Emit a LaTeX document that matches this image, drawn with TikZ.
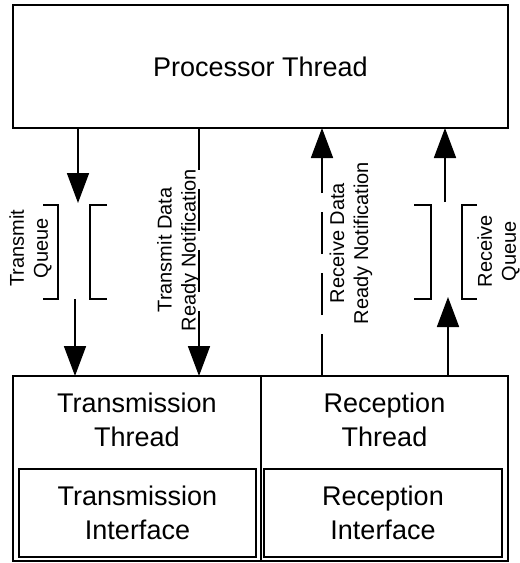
\documentclass[tikz,border=0pt]{standalone}
\usepackage{fontspec}
\setmainfont{Liberation Sans}
\usetikzlibrary{arrows.meta}
\begin{document}
\begin{tikzpicture}[x=1pt,y=-1pt,
  line width=1.8pt,
  box/.style={draw, rectangle, outer sep=0pt, inner sep=0pt, anchor=north west},
  bigtext/.style={inner sep=0pt, align=center, font=\fontsize{27}{34}\selectfont},
  sidetext/.style={inner sep=0pt, align=center, rotate=90, font=\fontsize{20}{24}\selectfont},
  flow/.style={-{Triangle[length=30pt,width=22pt]}},
  notify/.style={flow, dash pattern=on 42pt off 19pt},
  bracket/.style={line cap=butt}]
  \useasboundingbox (0,0) rectangle (520,563);

  % thread boxes
  \node[box, minimum width=495pt, minimum height=123pt] (proc) at (13,5) {};
  \node[bigtext] (proctext) at (proc.center) {Processor Thread};
  \node[box, minimum width=248pt, minimum height=185pt] (txt) at (13,376) {};
  \node[box, minimum width=247pt, minimum height=185pt] (rxt) at (261,376) {};
  \node[box, minimum width=237pt, minimum height=88pt] (txi) at (19,469) {};
  \node[box, minimum width=238pt, minimum height=88pt] (rxi) at (264,469) {};

  \node[bigtext] (txttext) at (137,420) {Transmission\\Thread};
  \node[bigtext] (rxttext) at (384.5,420) {Reception\\Thread};
  \node[bigtext] (txitext) at (txi.center) {Transmission\\Interface};
  \node[bigtext] (rxitext) at (rxi.center) {Reception\\Interface};

  % queue openings
  \coordinate (tq1) at (78,203);
  \coordinate (tq2) at (75,299);
  \coordinate (rq1) at (448,297);
  \coordinate (rq2) at (445,202);
  \coordinate (tn) at (199,0);
  \coordinate (rn) at (322,0);

  % transmit queue
  \draw[flow] (proc.south -| tq1) -- (tq1);
  \draw[flow] (tq2) -- (tq2 |- txt.north);
  \draw[bracket] (43,205) -- (58,205) -- (58,299) -- (43,299);
  \draw[bracket] (107,205) -- (90,205) -- (90,299) -- (107,299);
  \node[sidetext] (tqlabel) at (30.5,248) {Transmit\\Queue};

  % transmit data ready notification
  \draw[notify] (proc.south -| tn) -- (txt.north -| tn);
  \node[sidetext] (tnlabel) at (178.5,250) {Transmit Data\\Ready Notification};

  % receive data ready notification
  \draw[notify] (rxt.north -| rn) -- (proc.south -| rn);
  \node[sidetext] (rnlabel) at (351,243) {Receive Data\\Ready Notification};

  % receive queue
  \draw[flow] (rq1 |- rxt.north) -- (rq1);
  \draw[flow] (rq2) -- (rq2 |- proc.south);
  \draw[bracket] (414,205) -- (431,205) -- (431,299) -- (414,299);
  \draw[bracket] (477,205) -- (462,205) -- (462,299) -- (477,299);
  \node[sidetext] (rqlabel) at (498.5,251) {Receive\\Queue};
\end{tikzpicture}
\end{document}
